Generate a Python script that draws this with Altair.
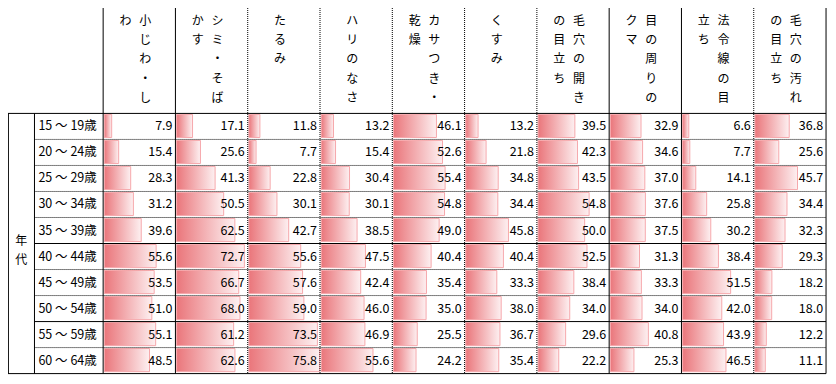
import altair as alt
import pandas as pd

# ---------------- data ----------------
CATEGORIES = ["小じわ・しわ", "シミ・そばかす", "たるみ", "ハリのなさ", "カサつき・乾燥",
              "くすみ", "毛穴の開き・目立ち", "目の周りのクマ", "法令線の目立ち", "毛穴の汚れの目立ち"]
# header text as vertical columns, read right to left
HEADER_COLUMNS = [
    ["小じわ・し", "わ"],
    ["シミ・そば", "かす"],
    ["たるみ"],
    ["ハリのなさ"],
    ["カサつき・", "乾燥"],
    ["くすみ"],
    ["毛穴の開き", "の目立ち"],
    ["目の周りの", "クマ"],
    ["法令線の目", "立ち"],
    ["毛穴の汚れ", "の目立ち"],
]
AGE_GROUPS = ["15 ～ 19歳", "20 ～ 24歳", "25 ～ 29歳", "30 ～ 34歳", "35 ～ 39歳",
              "40 ～ 44歳", "45 ～ 49歳", "50 ～ 54歳", "55 ～ 59歳", "60 ～ 64歳"]
ROW_TITLE = "年代"

KOJIWA   = [7.9, 15.4, 28.3, 31.2, 39.6, 55.6, 53.5, 51.0, 55.1, 48.5]
SHIMI    = [17.1, 25.6, 41.3, 50.5, 62.5, 72.7, 66.7, 68.0, 61.2, 62.6]
TARUMI   = [11.8, 7.7, 22.8, 30.1, 42.7, 55.6, 57.6, 59.0, 73.5, 75.8]
HARI     = [13.2, 15.4, 30.4, 30.1, 38.5, 47.5, 42.4, 46.0, 46.9, 55.6]
KASA     = [46.1, 52.6, 55.4, 54.8, 49.0, 40.4, 35.4, 35.0, 25.5, 24.2]
KUSUMI   = [13.2, 21.8, 34.8, 34.4, 45.8, 40.4, 33.3, 38.0, 36.7, 35.4]
KEANA    = [39.5, 42.3, 43.5, 54.8, 50.0, 52.5, 38.4, 34.0, 29.6, 22.2]
KUMA     = [32.9, 34.6, 37.0, 37.6, 37.5, 31.3, 33.3, 34.0, 40.8, 25.3]
HOREISEN = [6.6, 7.7, 14.1, 25.8, 30.2, 38.4, 51.5, 42.0, 43.9, 46.5]
KEANA_YOGORE = [36.8, 25.6, 45.7, 34.4, 32.3, 29.3, 18.2, 18.0, 12.2, 11.1]
SERIES = [KOJIWA, SHIMI, TARUMI, HARI, KASA, KUSUMI, KEANA, KUMA, HOREISEN, KEANA_YOGORE]

# ---------------- layout (styling) ----------------
W, H = 820, 368
REF_W, REF_H = 836.0, 384.0
PX = 0.95                      # reference px per value unit
X_MAX = REF_W / PX
LEFT = 97 / PX                 # first data column start
COL_W = 73.7 / PX              # column width (value units)
LABEL_SPLIT = 27 / PX          # line between 年代 and age labels
ROW_PX = 27.15
Y_MIN = -110 / ROW_PX
Y_MAX = (REF_H - 110) / ROW_PX
SY = H / REF_H
FONT = "Noto Sans CJK JP"

xs = alt.Scale(domain=[0, X_MAX], nice=False, zero=False)
ys = alt.Scale(domain=[Y_MIN, Y_MAX], nice=False, zero=False, reverse=True)


def X(f):
    return alt.X(f, type="quantitative", scale=xs, axis=None)


def Y(f):
    return alt.Y(f, type="quantitative", scale=ys, axis=None)


# bars + values
rows = []
for ci, vals in enumerate(SERIES):
    for ri, v in enumerate(vals):
        x0 = LEFT + ci * COL_W + 1.2 / PX
        rows.append({
            "cat": CATEGORIES[ci], "age": AGE_GROUPS[ri], "value": v,
            "x": x0, "x2": x0 + v,
            "y": ri + 1 / ROW_PX, "y2": ri + 1 - 2 / ROW_PX,
            "tx": LEFT + (ci + 1) * COL_W - 3 / PX, "ty": ri + 0.5,
        })
bars = pd.DataFrame(rows)

grad = alt.LinearGradient(
    gradient="linear",
    stops=[alt.GradientStop(offset=0, color="#ea767b"),
           alt.GradientStop(offset=1, color="#fdf0f1")],
    x1=0, x2=1, y1=0, y2=0,
)

bar_layer = alt.Chart(bars).mark_rect(color=grad, stroke="#f6a8ac", strokeWidth=1).encode(
    x=X("x"), x2="x2", y=Y("y"), y2="y2"
)
value_layer = alt.Chart(bars).mark_text(
    align="right", baseline="middle", font=FONT, fontSize=12.5, color="#000000"
).encode(x=X("tx"), y=Y("ty"), text=alt.Text("value:Q", format=".1f"))

# age labels
age_df = pd.DataFrame({"label": AGE_GROUPS,
                       "x": [31 / PX] * len(AGE_GROUPS),
                       "y": [i + 0.5 for i in range(len(AGE_GROUPS))]})
age_layer = alt.Chart(age_df).mark_text(
    align="left", baseline="middle", font=FONT, fontSize=12.5, color="#000000"
).encode(x=X("x"), y=Y("y"), text="label:N")

# row title (vertical)
title_df = pd.DataFrame({"label": ["\n".join(ROW_TITLE)], "x": [13.5 / PX],
                         "y": [(243 - 110) / ROW_PX]})
title_layer = alt.Chart(title_df).mark_text(
    align="center", baseline="middle", font=FONT, fontSize=12, lineBreak="\n",
    lineHeight=20 * SY, color="#000000"
).encode(x=X("x"), y=Y("y"), text="label:N")

# header (vertical text columns)
hrows = []
for ci, cols in enumerate(HEADER_COLUMNS):
    center = LEFT + (ci + 0.5) * COL_W - 4 / PX
    if len(cols) == 1:
        xs_pos = [center]
    else:
        xs_pos = [center + 10 / PX, center - 10 / PX]
    for col_text, xp in zip(cols, xs_pos):
        hrows.append({"label": "\n".join(col_text), "x": xp, "y": (8.5 - 110) / ROW_PX})
head_df = pd.DataFrame(hrows)
head_layer = alt.Chart(head_df).mark_text(
    align="center", baseline="top", font=FONT, fontSize=12, lineBreak="\n",
    lineHeight=20 * SY, color="#000000"
).encode(x=X("x"), y=Y("y"), text="label:N")

# grid lines
SOLID_COLS = {0, 1, 7, 8, 10}
SOLID_ROWS = {0, 5, 8, 10}
X_RIGHT = LEFT + 10 * COL_W
lines = []
for i in range(11):
    xv = LEFT + i * COL_W
    lines.append({"x": xv, "x2": xv, "y": Y_MIN, "y2": 10,
                  "solid": i in SOLID_COLS})
for xv in (0.4 / PX, LABEL_SPLIT):
    lines.append({"x": xv, "x2": xv, "y": 0, "y2": 10, "solid": True})
for k in range(11):
    x_start = 0 if k in (0, 10) else LABEL_SPLIT
    lines.append({"x": x_start, "x2": X_RIGHT, "y": k, "y2": k,
                  "solid": k in SOLID_ROWS})
lines_df = pd.DataFrame(lines)

solid_layer = alt.Chart(lines_df[lines_df.solid]).mark_rule(
    color="#000000", strokeWidth=1
).encode(x=X("x"), x2="x2", y=Y("y"), y2="y2")
dot_layer = alt.Chart(lines_df[~lines_df.solid]).mark_rule(
    color="#000000", strokeWidth=1, strokeDash=[1, 1]
).encode(x=X("x"), x2="x2", y=Y("y"), y2="y2")

chart = alt.layer(
    bar_layer, value_layer, age_layer, title_layer, head_layer, dot_layer, solid_layer
).properties(
    width=W, height=H, autosize=alt.AutoSizeParams(type="none"), padding=0,
    background="#ffffff"
).configure_view(stroke=None)

chart.save("out.html", embed_options={"renderer": "svg", "actions": False})
